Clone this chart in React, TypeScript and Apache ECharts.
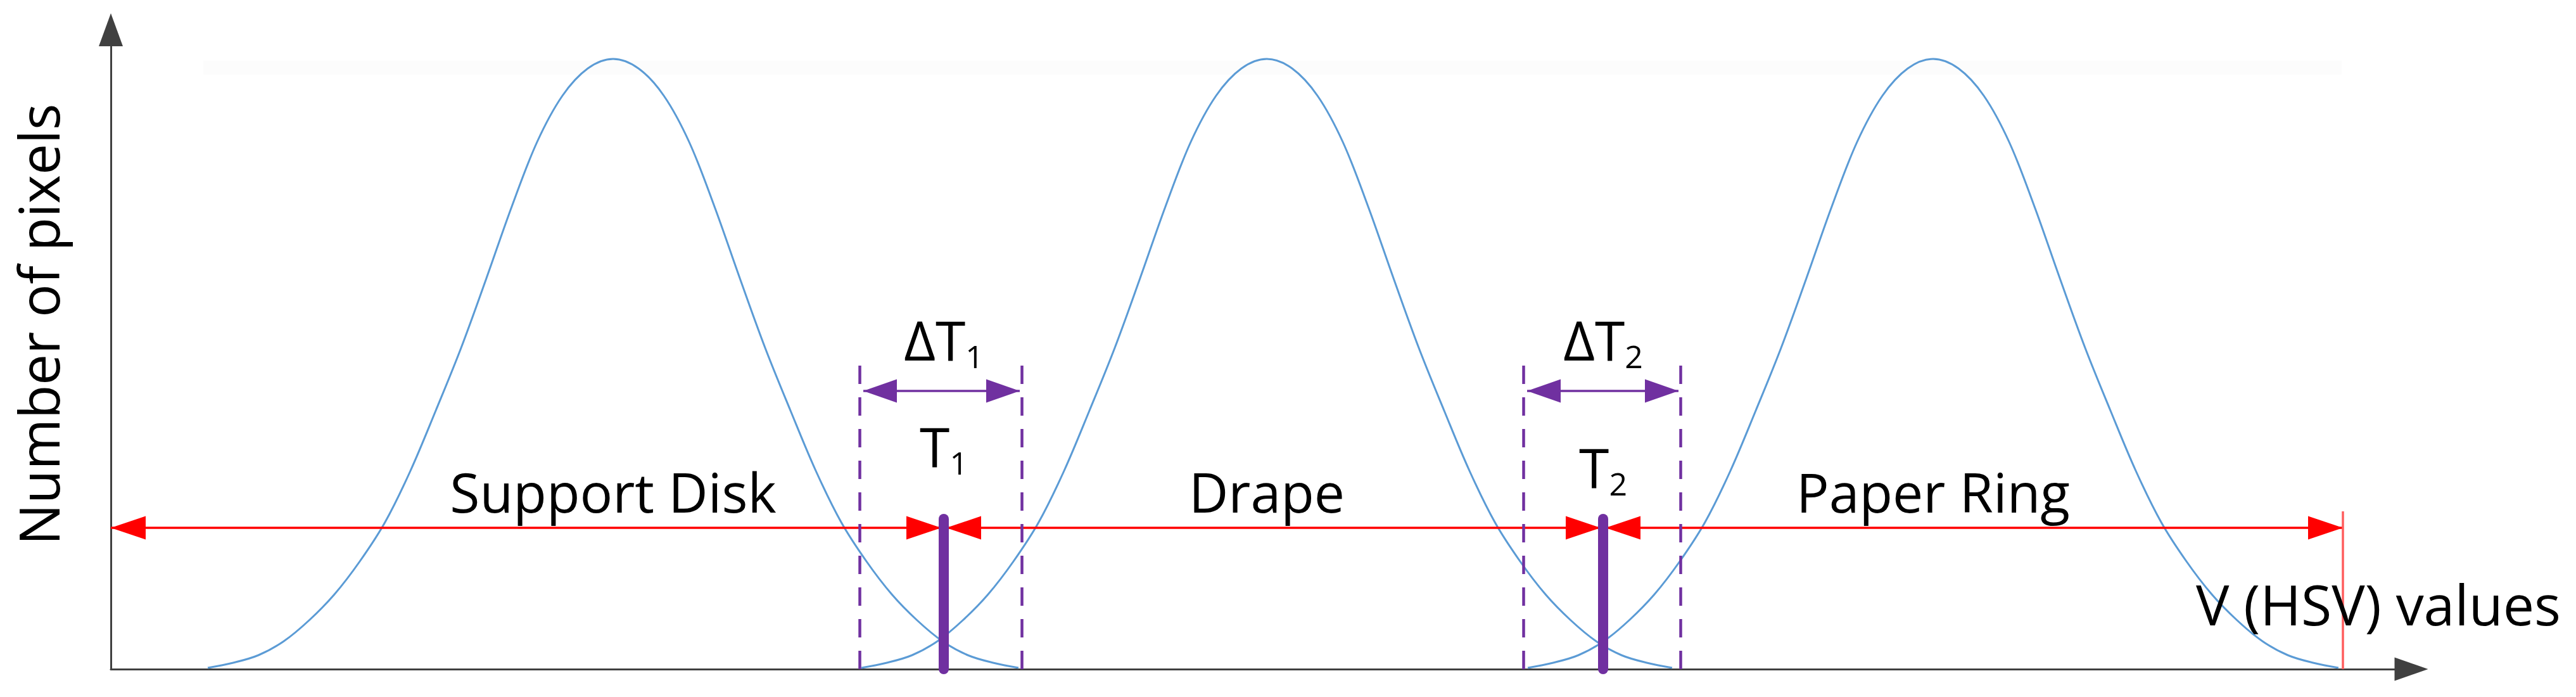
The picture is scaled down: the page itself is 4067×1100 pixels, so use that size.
import React, { useEffect, useRef } from "react";
import * as echarts from "echarts";

// ---------- data (plot units: x = V value, y = pixel count) ----------
const xMax = 3632;
const yMax = 1009;
const peakCenters = [793, 1825, 2877];
const regionNames = ["Support Disk", "Drape", "Paper Ring"];
// bell profile: offset from peak centre -> height
const bellOffsets = [-640, -600, -560, -520, -480, -440, -400, -360, -320, -280, -240, -200, -160, -120, -80, -40, 0,
  40, 80, 120, 160, 200, 240, 280, 320, 360, 400, 440, 480, 520, 560, 600, 640];
const bellHeights = [2, 10, 22, 44, 77, 118, 170, 232, 313, 408, 507, 617, 730, 832, 905, 948, 963,
  948, 905, 832, 730, 617, 507, 408, 313, 232, 170, 118, 77, 44, 22, 10, 2];
const thresholds = [1315, 2356];
const thresholdSubs = ["1", "2"];
const deltaLow = [1182, 2230];
const deltaHigh = [1438, 2478];
const vMax = 3524;

// ---------- layout (plot units) ----------
const RANGE_Y = 223;
const DELTA_TOP = 480;
const DELTA_ARROW_Y = 439;
const THRESH_TOP = 237;
const VMAX_TOP = 249;
const REGION_LABEL_Y = 281;
const DELTA_LABEL_Y = 521;
const THRESH_LABEL_Y = [353, 320];

const FONT = "'Open Sans', 'Noto Sans', sans-serif";
const PURPLE = "#7030A0";
const RED = "#ff0000";
const BLUE = "#5B9BD5";

function markLineSeries(name: string, z: number, data: any[], lineStyle: any) {
  return {
    name,
    type: "line",
    data: [],
    symbol: "none",
    z,
    silent: true,
    markLine: {
      silent: true,
      animation: false,
      label: { show: false },
      emphasis: { disabled: true },
      symbol: ["none", "none"],
      symbolSize: 10,
      lineStyle,
      data,
    },
  };
}

function arrowEnd(coord: number[], size: number[]) {
  return { coord, symbol: "triangle", symbolSize: size, symbolOffset: [0, "50%"] };
}

export default function App() {
  const ref = useRef<HTMLDivElement>(null);
  useEffect(() => {
    if (!ref.current) return;
    const chart = echarts.init(ref.current, undefined, { renderer: "svg" });

    const curves = peakCenters.map((c, k) => ({
      name: regionNames[k],
      type: "line",
      data: bellOffsets.map((d, i) => [c + d, bellHeights[i]]),
      symbol: "none",
      smooth: 0.35,
      silent: true,
      z: 2,
      lineStyle: { color: BLUE, width: 3 },
    }));

    const bounds = [0, ...thresholds, vMax];
    const gap = 4;
    const redHead = [37, 55];
    const rangeData = regionNames.map((_, i) => [
      arrowEnd([bounds[i] + (i > 0 ? gap : 0), RANGE_Y], redHead),
      arrowEnd([bounds[i + 1] - (i + 1 < bounds.length - 1 ? gap : 0), RANGE_Y], redHead),
    ]);

    const dashedData = [...deltaLow, ...deltaHigh].map((x) => [
      { coord: [x, 0] },
      { coord: [x, DELTA_TOP] },
    ]);
    const purpleHead = [37, 53];
    const deltaArrowData = deltaLow.map((lo, i) => [
      arrowEnd([lo + 6, DELTA_ARROW_Y], purpleHead),
      arrowEnd([deltaHigh[i] - 3, DELTA_ARROW_Y], purpleHead),
    ]);
    const threshData = thresholds.map((t) => [
      { coord: [t, 0] },
      { coord: [t, THRESH_TOP] },
    ]);
    const vmaxData = [[{ coord: [vMax, 0] }, { coord: [vMax, VMAX_TOP] }]];

    const axisCommon = {
      type: "value",
      axisTick: { show: false },
      axisLabel: { show: false },
      splitLine: { show: false },
    };

    chart.setOption({
      animation: false,
      backgroundColor: "#ffffff",
      grid: { left: 175, right: 260, top: 47, bottom: 44, containLabel: false },
      xAxis: {
        ...axisCommon,
        min: 0,
        max: xMax,
        axisLine: {
          show: true,
          symbol: ["none", "triangle"],
          symbolSize: [37, 53],
          lineStyle: { color: "#404040", width: 3 },
        },
      },
      yAxis: {
        ...axisCommon,
        min: 0,
        max: yMax,
        axisLine: {
          show: true,
          symbol: ["none", "triangle"],
          symbolSize: [38, 52],
          lineStyle: { color: "#404040", width: 3 },
        },
      },
      series: [
        ...curves,
        markLineSeries("ranges", 3, rangeData, { color: RED, width: 3.5, type: "solid" }),
        markLineSeries("vmax", 3, vmaxData, { color: "#ff5c5c", width: 3.5, type: "solid" }),
        markLineSeries("deltaBounds", 4, dashedData, { color: PURPLE, width: 4.5, type: [29, 21] }),
        markLineSeries("deltaArrows", 4, deltaArrowData, { color: PURPLE, width: 3.5, type: "solid" }),
        markLineSeries("thresholds", 5, threshData, { color: PURPLE, width: 16, type: "solid", cap: "round" }),
      ],
    });

    const px = (x: number, y: number) => chart.convertToPixel({ gridIndex: 0 }, [x, y]) as number[];
    const plain = (p: number[], text: string, size = 86) => ({
      type: "text",
      x: p[0],
      y: p[1],
      silent: true,
      z: 10,
      style: {
        text,
        fill: "#000",
        fontFamily: FONT,
        fontSize: size,
        align: "center",
        verticalAlign: "middle",
      },
    });
    const rich = (p: number[], main: string, sub: string) => ({
      type: "text",
      x: p[0],
      y: p[1],
      silent: true,
      z: 10,
      style: {
        text: `{m|${main}}{s|${sub}}`,
        fill: "#000",
        fontFamily: FONT,
        fontSize: 86,
        align: "center",
        verticalAlign: "middle",
        rich: {
          m: { fontFamily: FONT, fontSize: 86, lineHeight: 86, fill: "#000", verticalAlign: "bottom" },
          s: { fontFamily: FONT, fontSize: 50, height: 32, fill: "#000", verticalAlign: "bottom" },
        },
      },
    });

    const graphics: any[] = [
      {
        type: "rect",
        silent: true,
        z: -1,
        shape: { x: 321, y: 96, width: 3376, height: 22 },
        style: { fill: "#fcfcfc" },
      },
      ...peakCenters.map((c, k) => plain(px(c, REGION_LABEL_Y), regionNames[k])),
      ...thresholds.map((t, i) => rich(px(t, DELTA_LABEL_Y), "ΔT", thresholdSubs[i])),
      ...thresholds.map((t, i) => rich(px(t, THRESH_LABEL_Y[i]), "T", thresholdSubs[i])),
      {
        type: "text",
        x: 60,
        y: 512,
        rotation: Math.PI / 2,
        silent: true,
        style: {
          text: "Number of pixels",
          fill: "#000",
          fontFamily: FONT,
          fontSize: 87,
          align: "center",
          verticalAlign: "middle",
        },
      },
      {
        type: "text",
        x: 3755,
        y: 953,
        silent: true,
        z: 10,
        style: {
          text: "V (HSV) values",
          fill: "#000",
          fontFamily: FONT,
          fontSize: 88,
          align: "center",
          verticalAlign: "middle",
        },
      },
    ];
    chart.setOption({ graphic: graphics });

    return () => chart.dispose();
  }, []);

  return (
    <div
      ref={ref}
      style={{ position: "absolute", left: 0, top: 0, width: 4067, height: 1100, background: "#fff" }}
    />
  );
}
